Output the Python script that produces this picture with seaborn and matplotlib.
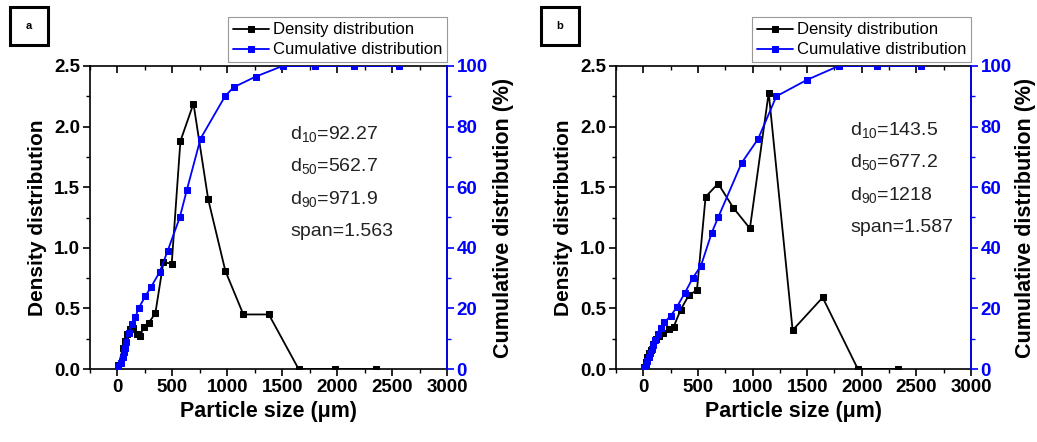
import numpy as np
import pandas as pd
import matplotlib
matplotlib.use("Agg")
import matplotlib.pyplot as plt
from matplotlib.patches import Rectangle
from matplotlib.ticker import MultipleLocator
import seaborn as sns

# ---------------- data ----------------
# Panel a
a_dens_x = [9, 49, 67, 85, 110, 140, 177, 207, 238, 284, 345, 418, 494, 573, 692, 826, 982, 1146, 1378, 1649, 1976, 2351]
a_dens_y = [0.03, 0.17, 0.23, 0.29, 0.33, 0.34, 0.29, 0.27, 0.35, 0.38, 0.46, 0.88, 0.87, 1.88, 2.19, 1.40, 0.81, 0.45, 0.45, 0.0, 0.0, 0.0]
a_cum_x = [9, 34, 49, 61, 70, 79, 101, 131, 162, 192, 253, 305, 384, 457, 567, 631, 756, 979, 1058, 1259, 1503, 1802, 2152, 2564]
a_cum_y = [1, 2, 4, 5.5, 7, 9, 12, 15, 17, 20, 24, 27, 32, 39, 50, 59, 76, 90, 93, 96.5, 100, 100, 100, 100]
a_stats = ["d$_{10}$=92.27", "d$_{50}$=562.7", "d$_{90}$=971.9", "span=1.563"]

# Panel b
b_dens_x = [6, 24, 36, 48, 67, 91, 112, 142, 182, 233, 279, 342, 418, 491, 570, 685, 824, 976, 1148, 1367, 1642, 1964, 2333]
b_dens_y = [0.02, 0.06, 0.10, 0.13, 0.16, 0.21, 0.25, 0.27, 0.30, 0.33, 0.35, 0.49, 0.61, 0.65, 1.42, 1.53, 1.33, 1.16, 2.28, 0.32, 0.59, 0.0, 0.0]
b_cum_x = [6, 24, 36, 48, 61, 76, 91, 109, 136, 164, 194, 252, 306, 379, 452, 527, 627, 685, 900, 1052, 1218, 1497, 1788, 2142, 2539]
b_cum_y = [0.3, 1.4, 2.5, 4, 5.3, 6.7, 8, 9.7, 11.6, 13.5, 15.4, 17.6, 20.4, 25, 30, 34, 45, 50, 68, 76, 90, 95.4, 100, 100, 100]
b_stats = ["d$_{10}$=143.5", "d$_{50}$=677.2", "d$_{90}$=1218", "span=1.587"]

x_ticks = [0, 500, 1000, 1500, 2000, 2500, 3000]
left_ticks = [0.0, 0.5, 1.0, 1.5, 2.0, 2.5]
right_ticks = [0, 20, 40, 60, 80, 100]
legend_labels = ["Density distribution", "Cumulative distribution"]
panel_letters = ["a", "b"]

# ---------------- style ----------------
sns.set_style("ticks")
plt.rcParams["font.family"] = ["Liberation Sans", "DejaVu Sans"]
plt.rcParams["mathtext.fontset"] = "custom"
plt.rcParams["mathtext.rm"] = "Liberation Sans"
plt.rcParams["mathtext.it"] = "Liberation Sans:italic"
plt.rcParams["mathtext.bf"] = "Liberation Sans:bold"
for key in ["text.color", "axes.labelcolor", "xtick.color", "ytick.color", "axes.edgecolor"]:
    plt.rcParams[key] = "black"

W, H = 1037, 442
fig = plt.figure(figsize=(W / 100, H / 100), dpi=100)

BLUE = "#0000FF"

def px_rect(l, t, r, b):
    return [l / W, 1 - b / H, (r - l) / W, (b - t) / H]

panels = [
    dict(rect=px_rect(90, 66, 447, 369), dx=a_dens_x, dy=a_dens_y, cx=a_cum_x, cy=a_cum_y,
         stats=a_stats, stat_pos=(290, 134), letter_box=(10, 7, 48, 45), rpad=4),
    dict(rect=px_rect(616, 66, 971, 369), dx=b_dens_x, dy=b_dens_y, cx=b_cum_x, cy=b_cum_y,
         stats=b_stats, stat_pos=(850, 130), letter_box=(541, 7, 579, 45), rpad=2),
]

for i, p in enumerate(panels):
    ax = fig.add_axes(p["rect"])
    ax2 = ax.twinx()

    sns.lineplot(x=p["dx"], y=p["dy"], ax=ax, color="black", marker="s", markersize=4,
                 markeredgecolor="black", linewidth=1.3, sort=False, label=legend_labels[0], legend=False)
    sns.lineplot(x=p["cx"], y=p["cy"], ax=ax2, color=BLUE, marker="s", markersize=4,
                 markeredgecolor=BLUE, linewidth=1.3, sort=False, label=legend_labels[1], legend=False)

    ax.set_xlim(-250, 3000)
    ax.set_ylim(0, 2.5)
    ax2.set_ylim(0, 100)
    ax.set_xticks(x_ticks)
    ax.set_yticks(left_ticks)
    ax.set_yticklabels([f"{v:.1f}" for v in left_ticks])
    ax2.set_yticks(right_ticks)
    ax.xaxis.set_minor_locator(MultipleLocator(250))
    ax.yaxis.set_minor_locator(MultipleLocator(0.25))
    ax2.yaxis.set_minor_locator(MultipleLocator(10))

    for sp in ax.spines.values():
        sp.set_linewidth(1.2)
        sp.set_color("black")
    ax2.spines["right"].set_color(BLUE)
    ax2.spines["right"].set_linewidth(1.2)
    ax2.spines["left"].set_visible(False)
    ax2.spines["top"].set_visible(False)
    ax2.spines["bottom"].set_visible(False)

    ax.tick_params(axis="both", which="major", direction="out", length=5, width=1.2,
                   labelsize=13.5, pad=2, colors="black")
    ax.tick_params(axis="both", which="minor", direction="out", length=3, width=1.0, colors="black")
    ax.tick_params(axis="y", right=False)
    ax2.tick_params(axis="y", which="major", direction="out", length=5, width=1.2,
                    colors=BLUE, labelsize=13.5, pad=2)
    ax2.tick_params(axis="y", which="minor", direction="out", length=3, width=1.0, colors=BLUE)
    for lab in ax.get_xticklabels() + ax.get_yticklabels() + ax2.get_yticklabels():
        lab.set_fontweight("bold")

    # top mirror ticks pointing inward
    top = ax.secondary_xaxis("top")
    top.set_xticks(x_ticks)
    top.xaxis.set_minor_locator(MultipleLocator(250))
    top.tick_params(which="major", direction="in", length=5, width=1.2, labeltop=False, colors="black")
    top.tick_params(which="minor", direction="in", length=3, width=1.0, colors="black")
    top.spines["top"].set_visible(False)

    ax.set_xlabel("Particle size (μm)", fontsize=15.5, fontweight="bold", labelpad=4, color="black")
    ax.set_ylabel("Density distribution", fontsize=15, fontweight="bold", labelpad=5, color="black")
    ax2.set_ylabel("Cumulative distribution (%)", fontsize=15.5, fontweight="bold",
                   labelpad=p["rpad"], color="black")

    # statistics
    sx, sy = p["stat_pos"]
    for k, s in enumerate(p["stats"]):
        fig.text(sx / W, 1 - (sy + 32.5 * k) / H, s, fontsize=14, ha="left", va="center", color="#222222")

    # legend
    h1, l1 = ax.get_legend_handles_labels()
    h2, l2 = ax2.get_legend_handles_labels()
    leg = ax2.legend(h1 + h2, l1 + l2, loc="lower right", bbox_to_anchor=(1.0, 1.012),
                     borderaxespad=0, frameon=True, fancybox=False, framealpha=1,
                     edgecolor="#999999", fontsize=12, handlelength=2.2, handletextpad=0.2,
                     labelspacing=0.3, borderpad=0.3)
    leg.get_frame().set_linewidth(0.8)

    # panel letter box
    l, t, r, b = p["letter_box"]
    fig.add_artist(Rectangle((l / W, 1 - b / H), (r - l) / W, (b - t) / H,
                             transform=fig.transFigure, fill=False, edgecolor="black", linewidth=2.2))
    fig.text((l + r) / 2 / W, 1 - (t + b) / 2 / H, panel_letters[i], fontsize=8,
             fontweight="bold", ha="center", va="center")

fig.savefig("out.png", dpi=100)
